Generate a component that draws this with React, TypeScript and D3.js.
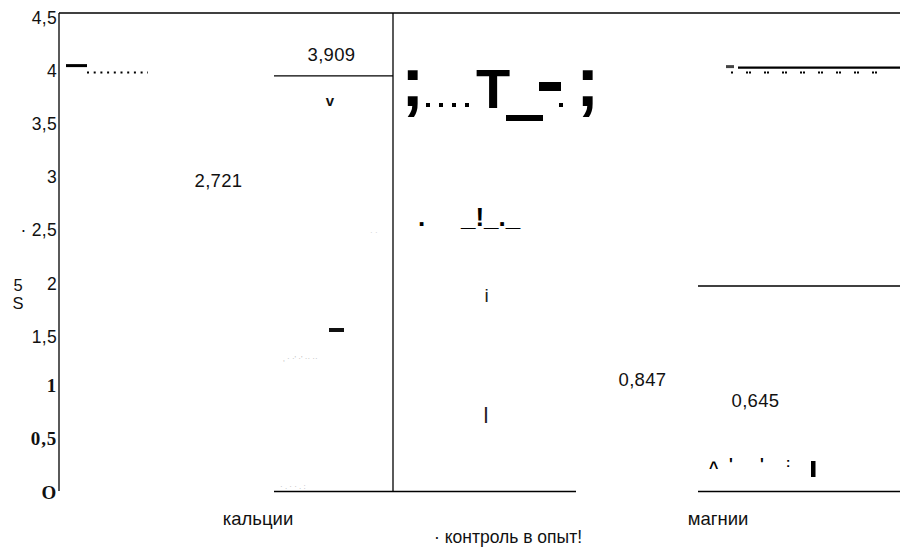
import React from "react";
import * as d3 from "d3";

// ---- data ----
const categories = ["кальции", "магнии"];
const seriesNames = ["контроль", "опыт"];
const controlValues = [2.721, 0.847];
const experimentValues = [3.909, 0.645];
const yTickValues = [0, 0.5, 1, 1.5, 2, 2.5, 3, 3.5, 4, 4.5];
const yTickLabels = ["O", "0,5", "1", "1,5", "2", "· 2,5", "3", "3,5", "4", "4,5"];
const serifTicks = [0, 0.5, 1];
const gridFragmentValue = 4;
const magnesiumRuleValue = 1.93;
const legendText = "· контроль в опыт!";
const yAxisTitle = ["5", "S"];

const W = 900;
const H = 548;
const SANS = "'Liberation Sans', Arial, Helvetica, sans-serif";
const SERIF = "'Liberation Serif', 'Times New Roman', serif";

export default function App() {
  const left = 59;
  const right = 900;
  const top = 13;
  const bottom = 491;

  const y = d3.scaleLinear().domain([0, 4.5]).range([bottom, top]);
  const x0 = d3
    .scaleBand<string>()
    .domain(categories)
    .range([155, 817])
    .paddingInner(186 / 424)
    .paddingOuter(0);
  const x1 = d3
    .scaleBand<string>()
    .domain(seriesNames)
    .range([0, x0.bandwidth()])
    .padding(0);
  const bw = x1.bandwidth();

  const values = [controlValues, experimentValues];

  const caStart = x0(categories[0])!;
  const mgStart = x0(categories[1])!;
  const caExp = caStart + x1(seriesNames[1])!;
  const mgExp = mgStart + x1(seriesNames[1])!;

  return (
    <svg
      width={W}
      height={H}
      style={{ position: "absolute", left: 0, top: 0, background: "#fff" }}
      fontFamily={SANS}
    >
      <rect x={0} y={0} width={W} height={H} fill="#fff" />
      {/* frame */}
      <line x1={left} x2={left} y1={top} y2={bottom} stroke="#000" strokeWidth={1.3} />
      <line x1={left} x2={right} y1={top} y2={top} stroke="#000" strokeWidth={1.3} />

      {/* y ticks */}
      {yTickValues.map((v, i) => {
        const serif = serifTicks.includes(v);
        return (
          <text
            key={v}
            x={57}
            y={y(v) + (serif ? 7.5 : 11)}
            textAnchor="end"
            fontSize={serif ? 19 : 17.5}
            fontWeight={serif ? "bold" : "normal"}
            fontFamily={serif ? SERIF : SANS}
            letterSpacing={serif ? 0.8 : 0.3}
            fill="#111"
          >
            {yTickLabels[i]}
          </text>
        );
      })}
      {yAxisTitle.map((t, i) => (
        <text key={i} x={18} y={291 + i * 18} textAnchor="middle" fontSize={16.5} fill="#111">
          {t}
        </text>
      ))}

      {/* grid fragments at 4 */}
      <line x1={66} x2={87} y1={y(gridFragmentValue) - 0.5} y2={y(gridFragmentValue) - 0.5} stroke="#000" strokeWidth={3} />
      <line x1={87} x2={148} y1={y(gridFragmentValue) + 6.5} y2={y(gridFragmentValue) + 6.5} stroke="#000" strokeWidth={2} strokeDasharray="2 4.7" />
      <line x1={726} x2={734} y1={y(gridFragmentValue) + 0.5} y2={y(gridFragmentValue) + 0.5} stroke="#444" strokeWidth={3} />
      <line x1={738} x2={right} y1={y(gridFragmentValue) + 1.5} y2={y(gridFragmentValue) + 1.5} stroke="#000" strokeWidth={2.2} />
      <line x1={731} x2={890} y1={y(gridFragmentValue) + 6.5} y2={y(gridFragmentValue) + 6.5} stroke="#000" strokeWidth={2} strokeDasharray="2 13 2 1" />

      {/* bar outlines */}
      <line x1={caExp} x2={caExp + bw} y1={y(experimentValues[0])} y2={y(experimentValues[0])} stroke="#000" strokeWidth={1.3} />
      <line x1={caExp + bw} x2={caExp + bw} y1={top} y2={bottom} stroke="#000" strokeWidth={1.3} />
      <line x1={caExp} x2={mgStart - 3} y1={bottom + 0.5} y2={bottom + 0.5} stroke="#000" strokeWidth={1.3} />
      <line x1={mgExp} x2={right} y1={bottom + 0.5} y2={bottom + 0.5} stroke="#000" strokeWidth={1.3} />
      <line x1={mgExp} x2={right} y1={y(magnesiumRuleValue)} y2={y(magnesiumRuleValue)} stroke="#000" strokeWidth={1.3} />

      {/* value labels */}
      {categories.map((c, ci) =>
        seriesNames.map((s, si) => {
          const v = values[si][ci];
          const cx = x0(c)! + x1(s)! + bw / 2 + (si === 0 ? 4 : -2);
          return (
            <text key={c + s} x={cx} y={y(v) - 15} textAnchor="middle" fontSize={18.5} letterSpacing={0.3} fill="#111">
              {String(v).replace(".", ",")}
            </text>
          );
        })
      )}

      {/* scan artifacts */}
      <text x={330} y={106} textAnchor="middle" fontSize={15} fontWeight="bold" fill="#111">v</text>
      <text x={401} y={106} fontSize={70} fontWeight="bold" fill="#000">;</text>
      <line x1={426} x2={472} y1={105} y2={105} stroke="#000" strokeWidth={4} strokeDasharray="4 9" />
      <text x={476} y={108} fontSize={56} fontWeight="bold" fill="#000">T</text>
      <rect x={506} y={115} width={37} height={6} fill="#000" />
      <rect x={539} y={82} width={22} height={9} fill="#000" />
      <rect x={559} y={103} width={4} height={4} fill="#000" />
      <text x={576} y={106} fontSize={70} fontWeight="bold" fill="#000">;</text>

      <text x={418} y={226} fontSize={26} fontWeight="bold" fill="#000">.</text>
      <text x={461} y={226} fontSize={26} fontWeight="bold" fill="#000">_!_._</text>
      <text x={486.5} y={302} textAnchor="middle" fontSize={19} fill="#222">i</text>
      <text x={486} y={423} textAnchor="middle" fontSize={22} fill="#222">l</text>
      <rect x={329} y={328} width={15} height={4} fill="#111" />
      <text x={283} y={361} fontSize={8} fill="#bbb">‚ · ·' ·'  ··   ··</text>
      <text x={370} y={235} fontSize={8} fill="#ccc">·  ·</text>
      <text x={280} y={489} fontSize={8} fill="#bbb">·   .        · ·      .       :</text>

      <text x={709} y={473} fontSize={16} fontWeight="bold" fill="#000">^</text>
      <text x={729} y={470} fontSize={16} fontWeight="bold" fill="#000">'</text>
      <text x={760} y={470} fontSize={16} fontWeight="bold" fill="#000">'</text>
      <text x={786} y={467} fontSize={13} fontWeight="bold" fill="#000">:</text>
      <rect x={811} y={461} width={4.5} height={16} fill="#000" />

      {/* category labels */}
      {categories.map((c, i) => (
        <text key={c} x={i === 0 ? 258 : 718} y={525} textAnchor="middle" fontSize={18.5} fill="#111">
          {c}
        </text>
      ))}
      <text x={508} y={543} textAnchor="middle" fontSize={17.5} fill="#111">
        {legendText}
      </text>
    </svg>
  );
}
